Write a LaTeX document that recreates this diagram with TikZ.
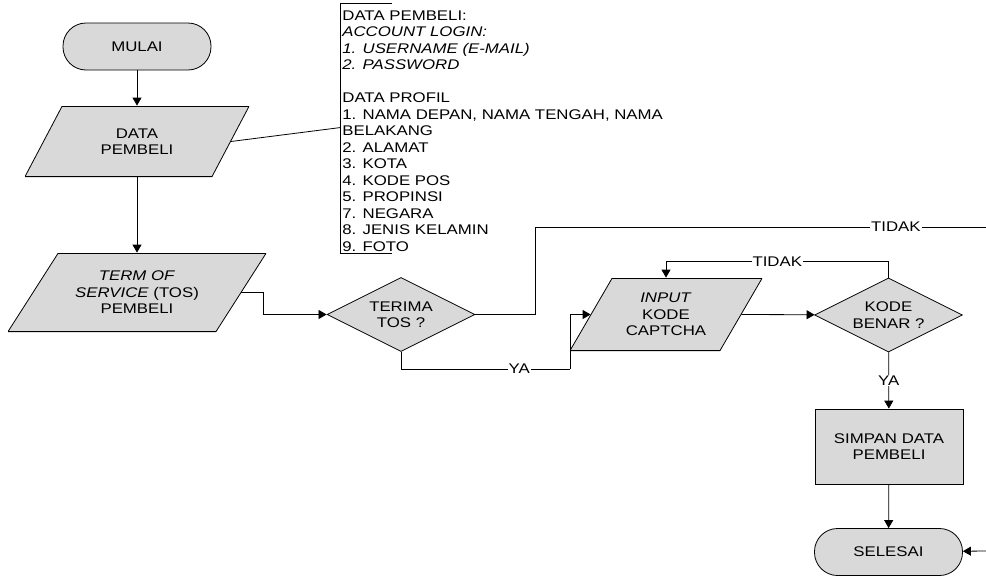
\documentclass[tikz,border=0pt]{standalone}
\usepackage{fontspec}
\setmainfont{Liberation Sans}[FakeStretch=1.2]
\usetikzlibrary{shapes.geometric,arrows.meta,calc}
\definecolor{boxgray}{RGB}{217,217,217}

\begin{document}
\begin{tikzpicture}[x=1pt, y=-1pt, line width=0.8pt, >={Triangle[length=8pt,width=9pt]},
    every node/.style={font=\fontsize{14}{16.5}\selectfont, align=center},
    terminal/.style={draw, fill=boxgray, rectangle, rounded corners=23pt, minimum width=148pt, minimum height=47pt},
    io/.style n args={3}{rectangle, inner sep=1pt, minimum width=#1, minimum height=#2,
        path picture={\filldraw[fill=boxgray] ([xshift=#3, yshift=-0.4pt]path picture bounding box.north west)
            -- ([yshift=-0.4pt]path picture bounding box.north east)
            -- ([xshift=-#3, yshift=0.4pt]path picture bounding box.south east)
            -- ([yshift=0.4pt]path picture bounding box.south west) -- cycle;}},
    decision/.style={draw, fill=boxgray, diamond, aspect=2, inner sep=1pt, minimum width=148pt, minimum height=74pt},
    process/.style={draw, fill=boxgray, rectangle, minimum width=148pt, minimum height=75pt},
    lbl/.style={fill=white, inner sep=1pt}]
        \useasboundingbox (0,0) rectangle (986,576);

        \node[terminal] (mulai) at (137,46.5) {MULAI};
        \node[io={224pt}{71pt}{37pt}] (dp) at (137,141.5) {DATA\\PEMBELI};
        \node[io={258pt}{79pt}{50pt}] (tos) at (137,292.5) {\textit{TERM OF}\\\textit{SERVICE} (TOS)\\PEMBELI};
        \node[decision] (terima) at (401,314.5) {TERIMA\\TOS ?};
        \node[io={192pt}{73pt}{42pt}] (input) at (666,314.5) {\textit{INPUT}\\KODE\\CAPTCHA};
        \node[decision] (benar) at (888.5,315) {KODE\\BENAR ?};
        \node[process] (simpan) at (889,446.5) {SIMPAN DATA\\PEMBELI};
        \node[terminal] (selesai) at (888.5,552) {SELESAI};

        \node[anchor=north west, align=left, inner sep=0pt] (pembeli) at (342,10) {DATA PEMBELI:\\\textit{ACCOUNT LOGIN:}\\\textit{1. USERNAME (E-MAIL)}\\\textit{2. PASSWORD}\\[16.5pt]DATA PROFIL\\1. NAMA DEPAN, NAMA TENGAH, NAMA\\BELAKANG\\2. ALAMAT\\3. KOTA\\4. KODE POS\\5. PROPINSI\\7. NEGARA\\8. JENIS KELAMIN\\9. FOTO};
        \coordinate (brk) at (340,127.6);
        \coordinate (tidakR) at (986,227);
        \coordinate (yaTurn) at (570,369);
        \coordinate (selesaiR) at (986,551);

        \draw (392,3) -- (340,3) -- (340,253) -- (392,253);

        \draw[->] (mulai) -- (dp);
        \draw ($(dp.east)+(-18.5,0)$) -- (brk);
        \draw[->] (dp) -- (tos);
        \draw[->] ($(tos.east)+(-25,0)$) -- ++(22,0) |- (terima);
        \draw (terima.east) -- ++(60,0) |- node[lbl, pos=0.9] {TIDAK} (tidakR);
        \draw (terima.south) |- node[lbl, pos=0.85] {YA} (yaTurn);
        \draw[->] (yaTurn) |- ($(input.west)+(21,0)$);
        \draw[->] ($(input.east)+(-21,0)$) -- (benar);
        \draw[->] (benar.north) -- ++(0,-16) -| node[lbl, pos=0.25] {TIDAK} (input);
        \draw[->] (benar) -- node[lbl] {YA} (simpan);
        \draw[->] (simpan) -- (selesai);
        \draw[->] (selesaiR) -- (selesai);
    \end{tikzpicture}
\end{document}
